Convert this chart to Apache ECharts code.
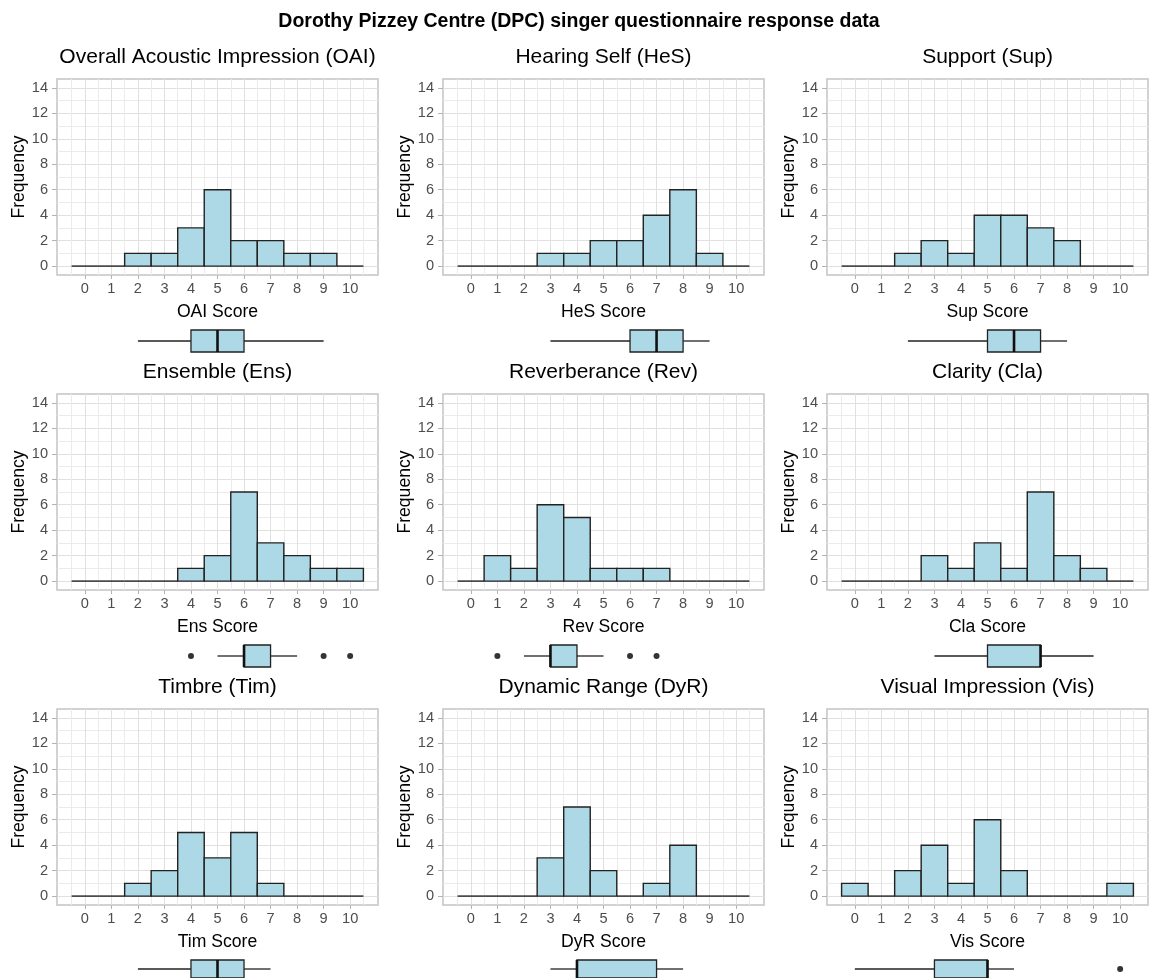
<!DOCTYPE html>
<html>
<head>
<meta charset="utf-8">
<script src="https://cdn.jsdelivr.net/npm/echarts@6/dist/echarts.min.js"></script>
<style>
  html, body { margin: 0; padding: 0; background: #fff; }
  #chart { width: 1149px; height: 978px; }
</style>
</head>
<body>
<div id="chart"></div>
<script>
// score bins 0..10
const scores = [0, 1, 2, 3, 4, 5, 6, 7, 8, 9, 10]
const freqTicks = [0, 2, 4, 6, 8, 10, 12, 14]

const panelTitles = [
  'Overall Acoustic Impression (OAI)', 'Hearing Self (HeS)', 'Support (Sup)',
  'Ensemble (Ens)', 'Reverberance (Rev)', 'Clarity (Cla)',
  'Timbre (Tim)', 'Dynamic Range (DyR)', 'Visual Impression (Vis)'
]
const shortNames = ['OAI', 'HeS', 'Sup', 'Ens', 'Rev', 'Cla', 'Tim', 'DyR', 'Vis']

// frequency per score bin
const oaiCounts = [0, 0, 1, 1, 3, 6, 2, 2, 1, 1, 0]
const hesCounts = [0, 0, 0, 1, 1, 2, 2, 4, 6, 1, 0]
const supCounts = [0, 0, 1, 2, 1, 4, 4, 3, 2, 0, 0]
const ensCounts = [0, 0, 0, 0, 1, 2, 7, 3, 2, 1, 1]
const revCounts = [0, 2, 1, 6, 5, 1, 1, 1, 0, 0, 0]
const claCounts = [0, 0, 0, 2, 1, 3, 1, 7, 2, 1, 0]
const timCounts = [0, 0, 1, 2, 5, 3, 5, 1, 0, 0, 0]
const dyrCounts = [0, 0, 0, 3, 7, 2, 0, 1, 4, 0, 0]
const visCounts = [1, 0, 2, 4, 1, 6, 2, 0, 0, 0, 1]

// boxplot: [lower whisker, Q1, median, Q3, upper whisker]
const oaiBox = [2, 4, 5, 6, 9]
const hesBox = [3, 6, 7, 8, 9]
const supBox = [2, 5, 6, 7, 8]
const ensBox = [5, 6, 6, 7, 8]
const revBox = [2, 3, 3, 4, 5]
const claBox = [3, 5, 7, 7, 9]
const timBox = [2, 4, 5, 6, 7]
const dyrBox = [3, 4, 4, 7, 8]
const visBox = [0, 3, 5, 5, 6]

// outliers
const ensOut = [4, 9, 10]
const revOut = [1, 6, 7]
const visOut = [10]

const allCounts = [oaiCounts, hesCounts, supCounts, ensCounts, revCounts, claCounts, timCounts, dyrCounts, visCounts]
const allBoxes = [oaiBox, hesBox, supBox, ensBox, revBox, claBox, timBox, dyrBox, visBox]
const allOut = [[], [], [], ensOut, revOut, [], [], [], visOut]

const FONT = "'Liberation Sans', Arial, sans-serif"
const FILL = '#ADD8E6'
const EDGE = '#222'
const colLeft = [57, 443, 827]
const rowTop = [79, 394, 709]
const PW = 321
const PH = 196

const xGridVals = []
for (let v = -0.5; v <= 10.5; v += 0.5) xGridVals.push(v)
const yGridVals = []
for (let v = 0; v <= 14; v++) yGridVals.push(v)

const grid = []
const xAxis = []
const yAxis = []
const series = []
const graphic = [{
  type: 'text', x: 579, y: 22,
  style: { text: 'Dorothy Pizzey Centre (DPC) singer questionnaire response data', font: 'bold 19.5px ' + FONT,
    fill: '#000', align: 'center', verticalAlign: 'middle', textAlign: 'center', textVerticalAlign: 'middle' }
}]

const xRange = { min: -1.05, max: 11.05 }
const yRange = { min: -0.7, max: 14.7 }

allCounts.forEach((counts, p) => {
  const L = colLeft[p % 3]
  const T = rowTop[Math.floor(p / 3)]

  graphic.push({
    type: 'text', x: L + PW / 2, y: T - 22,
    style: { text: panelTitles[p], font: '21px ' + FONT, fill: '#000',
      align: 'center', verticalAlign: 'middle', textAlign: 'center', textVerticalAlign: 'middle' }
  })

  const gHist = grid.length
  grid.push({ left: L, top: T, width: PW, height: PH, show: true, borderColor: '#c4c4c4', borderWidth: 1.5, backgroundColor: '#fff' })
  const gBox = grid.length
  grid.push({ left: L, top: T + 251, width: PW, height: 22 })

  // gridline axes
  const xa = xAxis.length
  xAxis.push({
    gridIndex: gHist, type: 'value', position: 'bottom', ...xRange,
    axisLine: { show: false, onZero: false }, axisLabel: { show: false },
    axisTick: { show: false, customValues: xGridVals },
    splitLine: { show: true, lineStyle: { color: ['#ebebeb', '#e0e0e0'], width: 1 } }
  })
  // labelled axis
  xAxis.push({
    gridIndex: gHist, type: 'value', position: 'bottom', ...xRange,
    name: shortNames[p] + ' Score', nameLocation: 'middle', nameGap: 28,
    nameTextStyle: { fontFamily: FONT, fontSize: 17.6, color: '#000' },
    axisLine: { show: false, onZero: false },
    axisTick: { show: true, length: 4, customValues: scores, lineStyle: { color: '#b3b3b3' } },
    axisLabel: { customValues: scores, margin: 6, fontFamily: FONT, fontSize: 14.6, color: '#4d4d4d' },
    splitLine: { show: false }
  })
  const xb = xAxis.length
  xAxis.push({ gridIndex: gBox, type: 'value', ...xRange, show: false, axisLine: { onZero: false }, splitLine: { show: false } })

  const ya = yAxis.length
  yAxis.push({
    gridIndex: gHist, type: 'value', position: 'left', ...yRange,
    axisLine: { show: false, onZero: false }, axisLabel: { show: false },
    axisTick: { show: false, customValues: yGridVals },
    splitLine: { show: true, lineStyle: { color: ['#e0e0e0', '#ebebeb'], width: 1 } }
  })
  yAxis.push({
    gridIndex: gHist, type: 'value', position: 'left', ...yRange,
    name: 'Frequency', nameLocation: 'middle', nameGap: 28, nameRotate: 90,
    nameTextStyle: { fontFamily: FONT, fontSize: 17.6, color: '#000' },
    axisLine: { show: false, onZero: false },
    axisTick: { show: true, length: 5, customValues: freqTicks, lineStyle: { color: '#b3b3b3' } },
    axisLabel: { customValues: freqTicks, margin: 9, fontFamily: FONT, fontSize: 14.6, color: '#4d4d4d' },
    splitLine: { show: false }
  })
  const yb = yAxis.length
  yAxis.push({ gridIndex: gBox, type: 'value', min: 0, max: 1, show: false, axisLine: { onZero: false }, splitLine: { show: false } })

  series.push({
    type: 'custom',
    xAxisIndex: xa, yAxisIndex: ya,
    silent: true,
    data: scores.map((s, i) => [s, counts[i]]),
    renderItem: (params, api) => {
      const x = api.value(0)
      const n = api.value(1)
      const a = api.coord([x - 0.5, n])
      const b = api.coord([x + 0.5, 0])
      if (n === 0) {
        return { type: 'line', shape: { x1: a[0], y1: b[1], x2: b[0], y2: b[1] }, style: { stroke: EDGE, lineWidth: 1.4 } }
      }
      return {
        type: 'rect',
        shape: { x: a[0], y: a[1], width: b[0] - a[0], height: b[1] - a[1] },
        style: { fill: FILL, stroke: EDGE, lineWidth: 1.4 }
      }
    }
  })

  series.push({
    type: 'custom',
    xAxisIndex: xb, yAxisIndex: yb,
    silent: true,
    data: [allBoxes[p]],
    renderItem: (params, api) => {
      const lo = api.value(0), q1 = api.value(1), md = api.value(2), q3 = api.value(3), hi = api.value(4)
      const top = api.coord([q1, 1])[1]
      const bot = api.coord([q1, 0])[1]
      const mid = (top + bot) / 2
      const px = v => api.coord([v, 0.5])[0]
      return {
        type: 'group',
        children: [
          { type: 'line', shape: { x1: px(lo), y1: mid, x2: px(q1), y2: mid }, style: { stroke: EDGE, lineWidth: 1.3 } },
          { type: 'line', shape: { x1: px(q3), y1: mid, x2: px(hi), y2: mid }, style: { stroke: EDGE, lineWidth: 1.3 } },
          { type: 'rect', shape: { x: px(q1), y: top, width: px(q3) - px(q1), height: bot - top }, style: { fill: FILL, stroke: EDGE, lineWidth: 1.3 } },
          { type: 'line', shape: { x1: px(md), y1: top, x2: px(md), y2: bot }, style: { stroke: '#111', lineWidth: 2.6 } }
        ]
      }
    }
  })

  if (allOut[p].length) {
    series.push({
      type: 'scatter',
      xAxisIndex: xb, yAxisIndex: yb,
      silent: true,
      symbol: 'circle', symbolSize: 6,
      itemStyle: { color: '#000' },
      data: allOut[p].map(v => [v, 0.5])
    })
  }
})

const chart = echarts.init(document.getElementById('chart'), null, { renderer: 'canvas' })
chart.setOption({
  animation: false,
  backgroundColor: '#fff',
  grid, xAxis, yAxis, series, graphic
})
</script>
</body>
</html>
